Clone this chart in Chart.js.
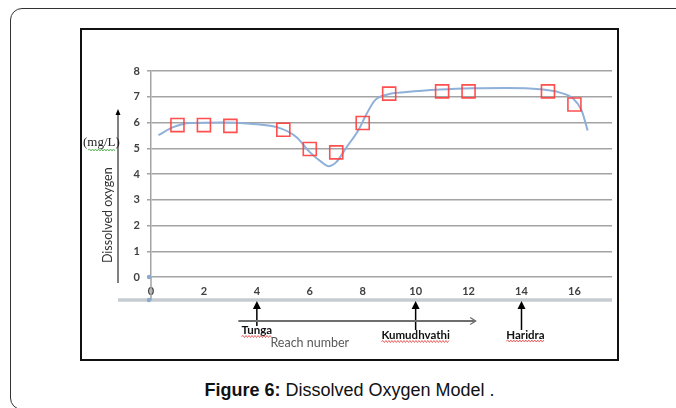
<!DOCTYPE html>
<html>
<head>
<meta charset="utf-8">
<script src="https://cdn.jsdelivr.net/npm/chart.js@4"></script>
<style>
  html, body { margin: 0; padding: 0; background: #fff; overflow: hidden; }
  body { width: 676px; height: 408px; position: relative; }
  .outer { position: absolute; left: 10px; top: 8px; width: 720px; height: 400px; border: 1px solid #333; border-radius: 12px; }
  .frame { position: absolute; left: 80px; top: 28px; width: 539px; height: 333px; box-sizing: border-box; border: 2px solid #111; }
  .caption { position: absolute; left: 81px; width: 537px; top: 380px; text-align: center;
             font-family: "Liberation Sans", Arial, sans-serif; font-size: 18px; line-height: 20px; color: #111; }
  canvas { position: absolute; left: 0; top: 0; }
</style>
</head>
<body>
<div class="outer"></div>
<div class="frame"></div>
<div class="caption"><b>Figure 6:</b> Dissolved Oxygen Model .</div>
<canvas id="doChart" width="676" height="408"></canvas>
<script>
// measured points (squares)
const reachNumbers = [1, 2, 3, 5, 6, 7, 8, 9, 11, 12, 15, 16];
const doValues = [5.9, 5.9, 5.87, 5.72, 4.97, 4.84, 5.98, 7.12, 7.21, 7.21, 7.21, 6.7];

// model curve
const curveReach = [0.28, 0.84, 1.47, 2.73, 3.74, 4.87, 5.5, 6.0, 6.45, 6.7, 7.0, 7.39, 7.83, 8.15, 8.46, 8.9, 9.66, 10.92, 12.18, 13.44, 14.7, 15.45, 15.95, 16.27, 16.5];
const curveDO = [5.51, 5.82, 5.98, 6.0, 5.95, 5.78, 5.43, 4.85, 4.46, 4.3, 4.46, 5.04, 5.69, 6.34, 6.86, 7.08, 7.18, 7.28, 7.33, 7.34, 7.29, 7.16, 6.93, 6.47, 5.69];

// axis ticks
const xTicks = [0, 2, 4, 6, 8, 10, 12, 14, 16];
const yTicks = [0, 1, 2, 3, 4, 5, 6, 7, 8];

// tributaries marked below the axis
const riverNames = ['Tunga', 'Kumudhvathi', 'Haridra'];
const riverReach = [4, 10, 14];
const riverLabelReach = [4, 10, 14.15];

const tickFont = { family: 'Lato, "Open Sans", sans-serif', size: 11, weight: 'bold' };

function wavy(ctx, x1, x2, y, color) {
    ctx.save();
    ctx.strokeStyle = color;
    ctx.lineWidth = 0.8;
    ctx.beginPath();
    let up = true;
    ctx.moveTo(x1, y);
    for (let x = x1 + 1.5; x <= x2; x += 1.5) {
        ctx.lineTo(x, up ? y - 1 : y + 1);
        up = !up;
    }
    ctx.stroke();
    ctx.restore();
}

function upArrow(ctx, x, yTip, yEnd) {
    ctx.beginPath();
    ctx.moveTo(x, yTip + 6);
    ctx.lineTo(x, yEnd);
    ctx.stroke();
    ctx.beginPath();
    ctx.moveTo(x, yTip);
    ctx.lineTo(x - 4, yTip + 8);
    ctx.lineTo(x + 4, yTip + 8);
    ctx.closePath();
    ctx.fill();
}

const extras = {
    id: 'extras',
    afterDraw(chart) {
        const ctx = chart.ctx;
        const xs = chart.scales.x;
        const ys = chart.scales.y;
        const area = chart.chartArea;
        const base = ys.getPixelForValue(0);
        const bandY = base + 23;
        ctx.save();

        // lower band + axis extension
        ctx.strokeStyle = '#c6ccd1';
        ctx.lineWidth = 3.5;
        ctx.beginPath();
        ctx.moveTo(area.left - 33, bandY);
        ctx.lineTo(area.right, bandY);
        ctx.stroke();
        ctx.strokeStyle = '#a0a0a0';
        ctx.lineWidth = 1.5;
        ctx.beginPath();
        ctx.moveTo(area.left, base);
        ctx.lineTo(area.left, bandY);
        ctx.stroke();
        ctx.fillStyle = '#8aa9cc';
        [base, bandY].forEach(y => {
            ctx.beginPath();
            ctx.arc(area.left - 2, y, 2.2, 0, Math.PI * 2);
            ctx.fill();
        });

        // river arrows
        ctx.strokeStyle = '#000';
        ctx.fillStyle = '#000';
        ctx.lineWidth = 1.5;
        riverReach.forEach((r, i) => {
            const px = xs.getPixelForValue(r);
            upArrow(ctx, px, bandY + 1, i === 0 ? 326 : 330);
        });

        // reach direction arrow
        const ax1 = xs.getPixelForValue(3.3);
        const ax2 = xs.getPixelForValue(12.25);
        ctx.strokeStyle = '#6e6e6e';
        ctx.lineWidth = 2;
        ctx.beginPath();
        ctx.moveTo(ax1, 321);
        ctx.lineTo(ax2, 321);
        ctx.stroke();
        ctx.lineWidth = 1.3;
        ctx.beginPath();
        ctx.moveTo(ax2 - 5, 317.5);
        ctx.lineTo(ax2 + 0.5, 321);
        ctx.lineTo(ax2 - 5, 324.5);
        ctx.stroke();

        // river labels
        ctx.font = 'bold 11.5px Lato, "Open Sans", sans-serif';
        ctx.textAlign = 'center';
        ctx.textBaseline = 'middle';
        ctx.fillStyle = '#111';
        const labelY = [330.5, 335.5, 335];
        riverNames.forEach((name, i) => {
            const px = xs.getPixelForValue(riverLabelReach[i]);
            ctx.fillText(name, px, labelY[i]);
            const w = ctx.measureText(name).width;
            wavy(ctx, px - w / 2, px + w / 2, labelY[i] + 6, '#e23b3b');
        });

        // x axis title
        ctx.font = '12.5px Lato, "Open Sans", sans-serif';
        ctx.fillStyle = '#595959';
        ctx.fillText('Reach number', xs.getPixelForValue(6.0), 343);

        // y axis arrow
        ctx.strokeStyle = '#000';
        ctx.fillStyle = '#000';
        ctx.lineWidth = 1;
        ctx.beginPath();
        ctx.moveTo(118, 283);
        ctx.lineTo(118, 112);
        ctx.stroke();
        ctx.beginPath();
        ctx.moveTo(118, 109);
        ctx.lineTo(115.5, 115);
        ctx.lineTo(120.5, 115);
        ctx.closePath();
        ctx.fill();

        // y axis title
        ctx.save();
        ctx.translate(108, ys.getPixelForValue(2.4));
        ctx.rotate(-Math.PI / 2);
        ctx.font = '12.5px Lato, "Open Sans", sans-serif';
        ctx.fillStyle = '#333';
        ctx.fillText('Dissolved oxygen', 0, 0);
        ctx.restore();

        // unit
        ctx.font = '13px "Liberation Serif", serif';
        ctx.textAlign = 'left';
        ctx.fillStyle = '#222';
        ctx.fillText('(mg/L)', 83, 143);
        const wUnit = ctx.measureText('(mg/L)').width;
        wavy(ctx, 88, 83 + wUnit - 4, 150, '#3aa83a');

        ctx.restore();
    }
};

new Chart(document.getElementById('doChart'), {
    type: 'scatter',
    data: {
        datasets: [
            {
                label: 'model',
                data: curveReach.map((x, i) => ({ x: x, y: curveDO[i] })),
                showLine: true,
                borderColor: '#8fb0d8',
                borderWidth: 2,
                pointRadius: 0,
                cubicInterpolationMode: 'monotone',
                order: 2
            },
            {
                label: 'observed',
                data: reachNumbers.map((x, i) => ({ x: x, y: doValues[i] })),
                showLine: false,
                pointStyle: 'rect',
                pointRadius: 9.2,
                borderColor: 'rgba(255, 60, 60, 0.9)',
                backgroundColor: 'rgba(0,0,0,0)',
                borderWidth: 1.6,
                order: 1
            }
        ]
    },
    options: {
        responsive: false,
        animation: false,
        layout: { padding: { left: 0, top: 71, right: 64, bottom: 101 } },
        plugins: {
            legend: { display: false },
            tooltip: { enabled: false }
        },
        scales: {
            x: {
                type: 'linear',
                min: 0,
                max: 17.42,
                afterBuildTicks: (scale) => { scale.ticks = xTicks.map(v => ({ value: v })); },
                afterFit: (scale) => { scale.height = 30; },
                grid: { display: false, drawTicks: false },
                border: { display: false },
                ticks: { font: tickFont, color: '#404040', padding: 8, maxRotation: 0, autoSkip: false }
            },
            y: {
                min: 0,
                max: 8,
                afterBuildTicks: (scale) => { scale.ticks = yTicks.map(v => ({ value: v })); },
                afterFit: (scale) => { scale.width = 151; },
                grid: { color: '#a3a3a3', lineWidth: 1.5, tickLength: 4 },
                border: { display: true, color: '#a3a3a3', width: 1.5 },
                ticks: { font: tickFont, color: '#404040', padding: 7 }
            }
        }
    },
    plugins: [extras]
});
</script>
</body>
</html>
